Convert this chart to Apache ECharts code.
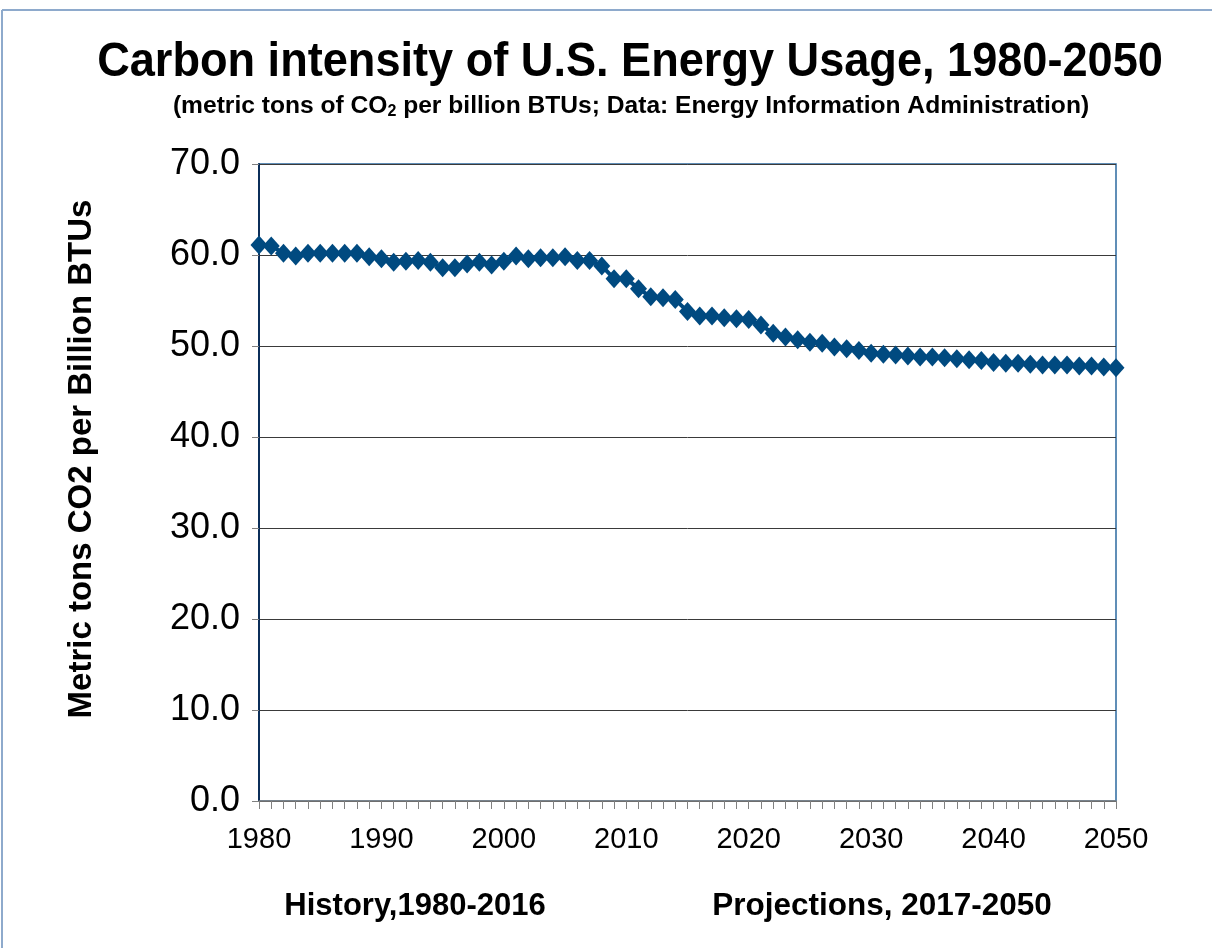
<!DOCTYPE html>
<html>
<head>
<meta charset="utf-8">
<script src="https://cdn.jsdelivr.net/npm/echarts@6/dist/echarts.min.js"></script>
<style>
  html, body { margin: 0; padding: 0; background: #fff; }
  #chart { width: 1212px; height: 948px; }
</style>
</head>
<body>
<div id="chart"></div>
<script>
// years 1980..2050, history through 2016, projections after
const years = [
  1980, 1981, 1982, 1983, 1984, 1985, 1986, 1987, 1988, 1989,
  1990, 1991, 1992, 1993, 1994, 1995, 1996, 1997, 1998, 1999,
  2000, 2001, 2002, 2003, 2004, 2005, 2006, 2007, 2008, 2009,
  2010, 2011, 2012, 2013, 2014, 2015, 2016, 2017, 2018, 2019,
  2020, 2021, 2022, 2023, 2024, 2025, 2026, 2027, 2028, 2029,
  2030, 2031, 2032, 2033, 2034, 2035, 2036, 2037, 2038, 2039,
  2040, 2041, 2042, 2043, 2044, 2045, 2046, 2047, 2048, 2049,
  2050
];
const intensity = [
  61.1, 61.0, 60.2, 59.9, 60.2, 60.2, 60.2, 60.2, 60.2, 59.8,
  59.6, 59.2, 59.3, 59.4, 59.2, 58.6, 58.6, 59.0, 59.2, 58.9,
  59.3, 59.9, 59.6, 59.7, 59.7, 59.8, 59.4, 59.4, 58.8, 57.4,
  57.4, 56.3, 55.4, 55.3, 55.1, 53.8, 53.3, 53.3, 53.1, 53.0,
  52.9, 52.3, 51.4, 51.0, 50.7, 50.4, 50.3, 49.9, 49.7, 49.5,
  49.2, 49.1, 49.0, 48.9, 48.8, 48.8, 48.7, 48.6, 48.5, 48.4,
  48.2, 48.1, 48.1, 48.0, 47.9, 47.9, 47.9, 47.8, 47.8, 47.7,
  47.6
];
const yTicks = [0, 10, 20, 30, 40, 50, 60, 70];

const chart = echarts.init(document.getElementById('chart'));
const font = '"Liberation Sans", Arial, sans-serif';
const lineBlue = '#004a80';

const option = {
  backgroundColor: '#fff',
  animation: false,
  textStyle: { fontFamily: font },
  grid: {
    left: 259, right: 96, top: 164, bottom: 147,
    show: true, borderColor: '#2c6aa0', borderWidth: 1.5
  },
  graphic: [
    // outer frame lines
    { type: 'line', shape: { x1: 2, y1: 10, x2: 1212, y2: 10 }, style: { stroke: '#8eaacc', lineWidth: 2 } },
    { type: 'line', shape: { x1: 2, y1: 10, x2: 2, y2: 948 }, style: { stroke: '#8eaacc', lineWidth: 2 } },
    {
      type: 'text', x: 630, y: 63, scaleX: 0.94,
      style: {
        text: 'Carbon intensity of U.S. Energy Usage, 1980-2050',
        font: 'bold 48px ' + font, fill: '#000',
        align: 'center', verticalAlign: 'middle'
      }
    },
    {
      type: 'text', x: 631, y: 106,
      style: {
        text: '{t|(metric tons of CO}{s|2}{t| per billion BTUs; Data: Energy Information Administration)}',
        align: 'center', verticalAlign: 'middle',
        rich: {
          t: { font: 'bold 24.6px ' + font, fill: '#000' },
          s: { font: 'bold 16px ' + font, fill: '#000', padding: [12, 0, 0, 0] }
        }
      }
    },
    {
      type: 'text', x: 82, y: 459, rotation: Math.PI / 2,
      style: {
        text: 'Metric tons CO2 per Billion BTUs',
        font: 'bold 33px ' + font, fill: '#000',
        align: 'center', verticalAlign: 'middle'
      }
    },
    {
      type: 'text', x: 415, y: 906,
      style: {
        text: 'History,1980-2016', font: 'bold 31px ' + font, fill: '#000',
        align: 'center', verticalAlign: 'middle'
      }
    },
    {
      type: 'text', x: 882, y: 906,
      style: {
        text: 'Projections, 2017-2050', font: 'bold 31.5px ' + font, fill: '#000',
        align: 'center', verticalAlign: 'middle'
      }
    }
  ],
  xAxis: {
    type: 'value',
    min: 1980, max: 2050, interval: 10,
    axisLine: { show: true, lineStyle: { color: '#808080', width: 1.5 } },
    axisTick: { show: true, inside: false, length: 8, lineStyle: { color: '#808080' } },
    minorTick: { show: true, splitNumber: 10, length: 8, lineStyle: { color: '#808080' } },
    splitLine: { show: false },
    axisLabel: { fontSize: 29, color: '#000', margin: 24, formatter: v => String(v) }
  },
  yAxis: {
    type: 'value',
    min: yTicks[0], max: yTicks[yTicks.length - 1], interval: 10,
    axisLine: { show: true, lineStyle: { color: '#0b2e59', width: 2 } },
    axisTick: { show: true, length: 7, lineStyle: { color: '#808080' } },
    splitLine: { show: true, lineStyle: { color: '#3a3a3a', width: 1 } },
    axisLabel: { fontSize: 36, color: '#000', margin: 19, formatter: v => v.toFixed(1) }
  },
  series: [{
    type: 'line',
    data: years.map((y, i) => [y, intensity[i]]),
    symbol: 'diamond',
    symbolSize: [17, 19],
    showAllSymbol: true,
    itemStyle: { color: lineBlue },
    lineStyle: { color: lineBlue, width: 4 }
  }]
};

chart.setOption(option);
</script>
</body>
</html>
